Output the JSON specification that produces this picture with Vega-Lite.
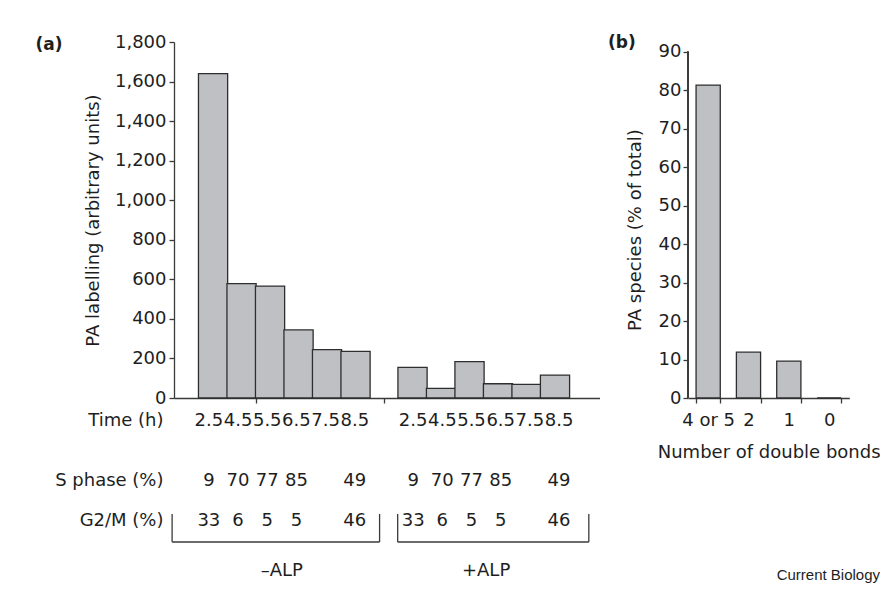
{
  "$schema": "https://vega.github.io/schema/vega-lite/v6.json",
  "padding": {"left": 35, "top": 33, "right": 2, "bottom": 0},
  "background": "white",
  "config": {
    "font": "DejaVu Sans",
    "view": {"stroke": null},
    "axis": {"labelFont": "DejaVu Sans", "titleFont": "DejaVu Sans", "labelFontSize": 18, "titleFontSize": 18, "titleFontWeight": "normal", "labelColor": "#1e1e1e", "titleColor": "#1e1e1e", "domainColor": "#3a3a3a", "tickColor": "#3a3a3a", "domainWidth": 1.3, "tickWidth": 1.3, "tickSize": 5, "grid": false},
    "text": {"font": "DejaVu Sans", "fontSize": 18, "color": "#1e1e1e"},
    "title": {"font": "DejaVu Sans", "fontSize": 17, "fontWeight": "bold", "color": "#1e1e1e"}
  },
  "datasets": {
    "pa": [
      {"grp": "–ALP", "time": "2.5", "i": 1, "pa": 1640, "s": "9", "g": "33"},
      {"grp": "–ALP", "time": "4.5", "i": 2, "pa": 578, "s": "70", "g": "6"},
      {"grp": "–ALP", "time": "5.5", "i": 3, "pa": 566, "s": "77", "g": "5"},
      {"grp": "–ALP", "time": "6.5", "i": 4, "pa": 344, "s": "85", "g": "5"},
      {"grp": "–ALP", "time": "7.5", "i": 5, "pa": 245, "s": "", "g": ""},
      {"grp": "–ALP", "time": "8.5", "i": 6, "pa": 236, "s": "49", "g": "46"},
      {"grp": "+ALP", "time": "2.5", "i": 8, "pa": 155, "s": "9", "g": "33"},
      {"grp": "+ALP", "time": "4.5", "i": 9, "pa": 49, "s": "70", "g": "6"},
      {"grp": "+ALP", "time": "5.5", "i": 10, "pa": 184, "s": "77", "g": "5"},
      {"grp": "+ALP", "time": "6.5", "i": 11, "pa": 72, "s": "85", "g": "5"},
      {"grp": "+ALP", "time": "7.5", "i": 12, "pa": 69, "s": "", "g": ""},
      {"grp": "+ALP", "time": "8.5", "i": 13, "pa": 116, "s": "49", "g": "46"}
    ],
    "db": [
      {"bonds": "4 or 5", "pct": 81.3},
      {"bonds": "2", "pct": 11.9},
      {"bonds": "1", "pct": 9.6},
      {"bonds": "0", "pct": 0}
    ],
    "br": [
      {"grp": "–ALP", "from": -0.26, "to": 6.85},
      {"grp": "+ALP", "from": 7.47, "to": 14.02}
    ]
  },
  "title": {"text": "Current Biology", "orient": "bottom", "anchor": "end", "font": "Liberation Sans", "fontSize": 15, "fontWeight": "normal", "color": "#1e1e1e", "offset": -12},
  "spacing": 8,
  "hconcat": [
    {
      "spacing": 4,
      "vconcat": [
        {
          "width": 425.5,
          "height": 356,
          "title": {"text": "(a)", "anchor": "start", "frame": "bounds", "dx": -49, "offset": -21},
          "data": {"name": "pa"},
          "mark": {"type": "bar", "width": 29.18, "fill": "#bfc0c4", "stroke": "#2e2e2e", "strokeWidth": 1.3},
          "encoding": {
            "x": {"field": "i", "type": "quantitative", "scale": {"domain": [-0.195, 14.386], "nice": false, "zero": false}, "axis": {"values": [2.5, 7], "labels": false, "title": null}},
            "y": {"field": "pa", "type": "quantitative", "scale": {"domain": [0, 1800], "nice": false}, "axis": {"values": [0, 200, 400, 600, 800, 1000, 1200, 1400, 1600, 1800], "format": ",d", "title": "PA labelling (arbitrary units)", "titlePadding": 12, "labelPadding": 3}}
          }
        },
        {
          "width": 425.5,
          "height": 160,
          "data": {"name": "pa"},
          "layer": [
            {
              "mark": {"type": "text"},
              "encoding": {
                "x": {"field": "i", "type": "quantitative", "scale": {"domain": [-0.195, 14.386], "nice": false, "zero": false}, "axis": null},
                "y": {"datum": "Time (h)", "type": "nominal", "scale": {"type": "band", "domain": ["Time (h)", "r1", "r2", "r3", "r4", "r5", "S phase (%)", "r7", "r8", "r9", "G2/M (%)", "r11", "r12", "r13", "r14", "ALP"], "paddingInner": 0, "paddingOuter": 0}, "axis": {"values": ["Time (h)", "S phase (%)", "G2/M (%)"], "domain": false, "ticks": false, "tickSize": 0, "labelPadding": 11, "title": null}},
                "text": {"field": "time"}
              }
            },
            {
              "mark": {"type": "text"},
              "encoding": {
                "x": {"field": "i", "type": "quantitative"},
                "y": {"datum": "S phase (%)", "type": "nominal"},
                "text": {"field": "s"}
              }
            },
            {
              "mark": {"type": "text"},
              "encoding": {
                "x": {"field": "i", "type": "quantitative"},
                "y": {"datum": "G2/M (%)", "type": "nominal"},
                "text": {"field": "g"}
              }
            },
            {
              "mark": {"type": "text"},
              "encoding": {
                "x": {"aggregate": "mean", "field": "i", "type": "quantitative"},
                "y": {"datum": "ALP", "type": "nominal"},
                "text": {"field": "grp"}
              }
            },
            {
              "data": {"name": "br"},
              "mark": {"type": "rule", "color": "#3a3a3a", "strokeWidth": 1.3},
              "encoding": {
                "x": {"field": "from", "type": "quantitative"},
                "x2": {"field": "to"},
                "y": {"datum": "r12", "type": "nominal", "bandPosition": 0.6}
              }
            },
            {
              "data": {"name": "br"},
              "mark": {"type": "rule", "color": "#3a3a3a", "strokeWidth": 1.3},
              "encoding": {
                "x": {"field": "from", "type": "quantitative"},
                "y": {"datum": "r9", "type": "nominal", "bandPosition": 0.8},
                "y2": {"datum": "r12", "bandPosition": 0.6}
              }
            },
            {
              "data": {"name": "br"},
              "mark": {"type": "rule", "color": "#3a3a3a", "strokeWidth": 1.3},
              "encoding": {
                "x": {"field": "to", "type": "quantitative"},
                "y": {"datum": "r9", "type": "nominal", "bandPosition": 0.8},
                "y2": {"datum": "r12", "bandPosition": 0.6}
              }
            }
          ]
        }
      ]
    },
    {
      "width": 161.3,
      "height": 356,
      "title": {"text": "(b)", "anchor": "start", "frame": "bounds", "dx": -18, "offset": -10},
      "data": {"name": "db"},
      "layer": [
        {
          "mark": {"type": "bar", "fill": "#bfc0c4", "stroke": "#2e2e2e", "strokeWidth": 1.3},
          "encoding": {
            "x": {"field": "bonds", "type": "nominal", "sort": null, "scale": {"paddingInner": 0.4, "paddingOuter": 0.2}, "axis": {"labelAngle": 0, "title": "Number of double bonds", "ticks": true, "tickSize": 5, "tickBand": "extent", "labelPadding": 8, "titlePadding": 14}},
            "y": {"field": "pct", "type": "quantitative", "scale": {"domain": [0, 92.5], "nice": false}, "axis": {"values": [0, 10, 20, 30, 40, 50, 60, 70, 80, 90], "domain": false, "title": "PA species (% of total)", "titlePadding": 14, "titleY": 187.5}}
          }
        },
        {
          "mark": {"type": "rule", "color": "#3a3a3a", "strokeWidth": 1.3},
          "encoding": {
            "x": {"datum": "4 or 5", "type": "nominal", "bandPosition": -0.3333, "axis": {"labelAngle": 0, "title": "Number of double bonds", "ticks": true, "tickSize": 5, "tickBand": "extent", "labelPadding": 8, "titlePadding": 14}},
            "y": {"datum": 0, "type": "quantitative", "axis": {"values": [0, 10, 20, 30, 40, 50, 60, 70, 80, 90], "domain": false, "title": "PA species (% of total)", "titlePadding": 14, "titleY": 187.5}},
            "y2": {"datum": 90}
          }
        }
      ]
    }
  ]
}
